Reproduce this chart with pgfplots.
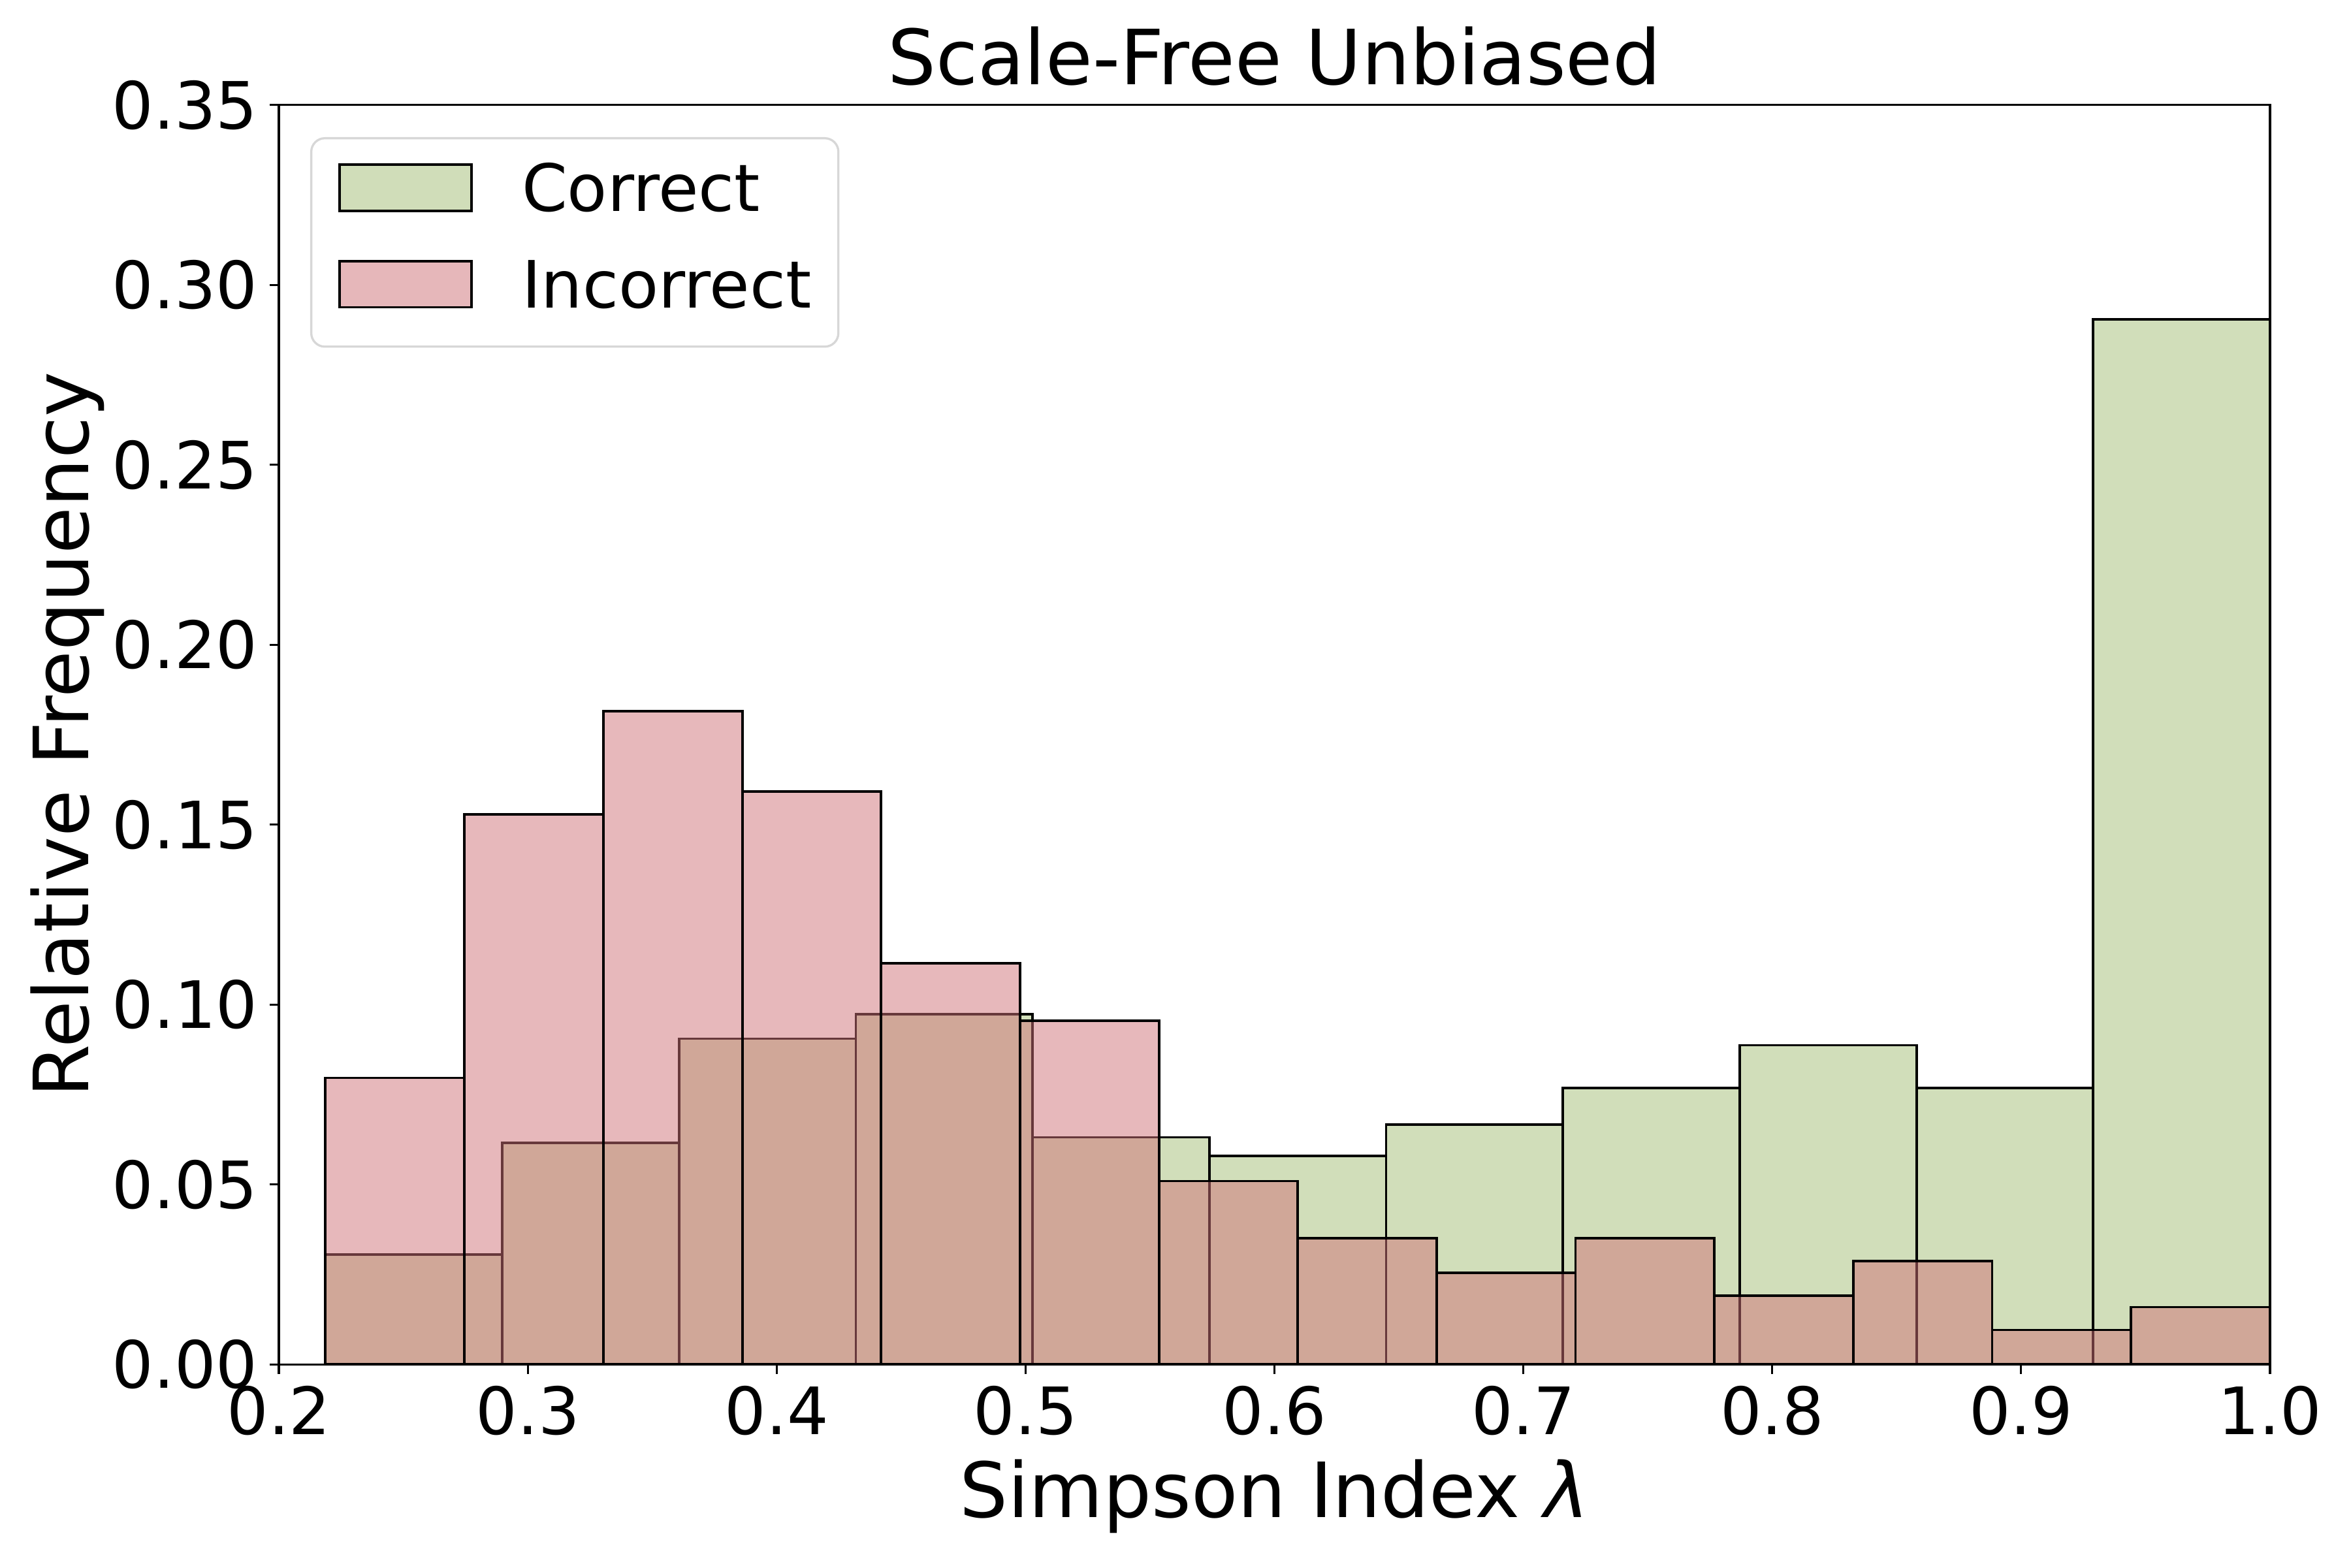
\documentclass[border=0pt]{standalone}
\usepackage{fontspec}
\setmainfont{DejaVu Sans}
\usepackage{pgfplots}
\pgfplotsset{compat=1.18}
\definecolor{cgreen}{RGB}{163,189,117}
\definecolor{cpink}{RGB}{207,113,119}
\definecolor{leggray}{RGB}{215,215,215}
\pgfplotsset{histleg/.style={legend image code/.code={\draw[##1, sharp corners] (0pt,-6pt) rectangle (48.5pt,11pt);}}}
\begin{document}
\begin{tikzpicture}
\path[use as bounding box] (0,0) rectangle (864pt,576pt);
\begin{axis}[
  at={(102.5pt,74.6pt)}, anchor=south west,
  scale only axis, width=731.7pt, height=462.8pt,
  xmin=0.2, xmax=1.0, ymin=0, ymax=0.35,
  xtick={0.2,0.3,0.4,0.5,0.6,0.7,0.8,0.9,1.0},
  xticklabels={0.2,0.3,0.4,0.5,0.6,0.7,0.8,0.9,1.0},
  ytick={0,0.05,0.10,0.15,0.20,0.25,0.30,0.35},
  yticklabels={0.00,0.05,0.10,0.15,0.20,0.25,0.30,0.35},
  ticklabel style={font=\fontsize{24}{28}\selectfont, inner sep=0pt},
  xticklabel style={anchor=north, yshift=-4.3pt},
  yticklabel style={anchor=east, xshift=-4.1pt},
  tick align=outside, major tick length=3.5pt,
  tick style={black, line width=0.8pt},
  axis line style={line width=0.8pt},
  xtick pos=lower, ytick pos=left,
  axis on top,
  title={Scale-Free Unbiased},
  title style={font=\fontsize{28}{34}\selectfont, at={(axis description cs:0.5,1.0033)}, anchor=base, inner sep=0pt},
  xlabel={Simpson Index \textit{λ}},
  xlabel style={font=\fontsize{28}{34}\selectfont, at={(axis description cs:0.5,-0.1214)}, anchor=base, inner sep=0pt},
  ylabel={Relative Frequency},
  ylabel style={font=\fontsize{28}{34}\selectfont, at={(axis description cs:-0.0957,0.5)}, anchor=base, inner sep=0pt},
  legend cell align=left,
  legend style={at={(axis description cs:0.0157,0.9745)}, anchor=north west,
    draw=leggray, line width=0.8pt, rounded corners=5pt, fill=white,
    font=\fontsize{24}{28}\selectfont,
    inner xsep=10pt, inner ysep=9.2pt, row sep=12.8pt, column sep=18pt,
    nodes={inner sep=0pt, text height=17.5pt, text depth=5pt}},
]
\addplot[ybar interval, fill=cgreen, fill opacity=0.5, draw=black, line width=0.9pt, histleg]
coordinates {
(0.2187,0.0305) (0.2897,0.0616) (0.3608,0.0905) (0.4318,0.0973) (0.5028,0.0631)
(0.5739,0.0579) (0.6449,0.0666) (0.7159,0.0768) (0.7870,0.0887) (0.8580,0.0768)
(0.9290,0.2904) (1.0,0)
};
\addlegendentry{Correct}
\addplot[ybar interval, fill=cpink, fill opacity=0.5, draw=black, line width=0.9pt, histleg]
coordinates {
(0.2187,0.07962) (0.2745,0.15287) (0.3303,0.18153) (0.3862,0.15924) (0.4420,0.11146)
(0.4978,0.09554) (0.5536,0.05096) (0.6094,0.03503) (0.6652,0.02548) (0.7210,0.03503)
(0.7768,0.01911) (0.8326,0.02866) (0.8884,0.00955) (0.9442,0.01592) (1.0,0)
};
\addlegendentry{Incorrect}
\end{axis}
\end{tikzpicture}
\end{document}
